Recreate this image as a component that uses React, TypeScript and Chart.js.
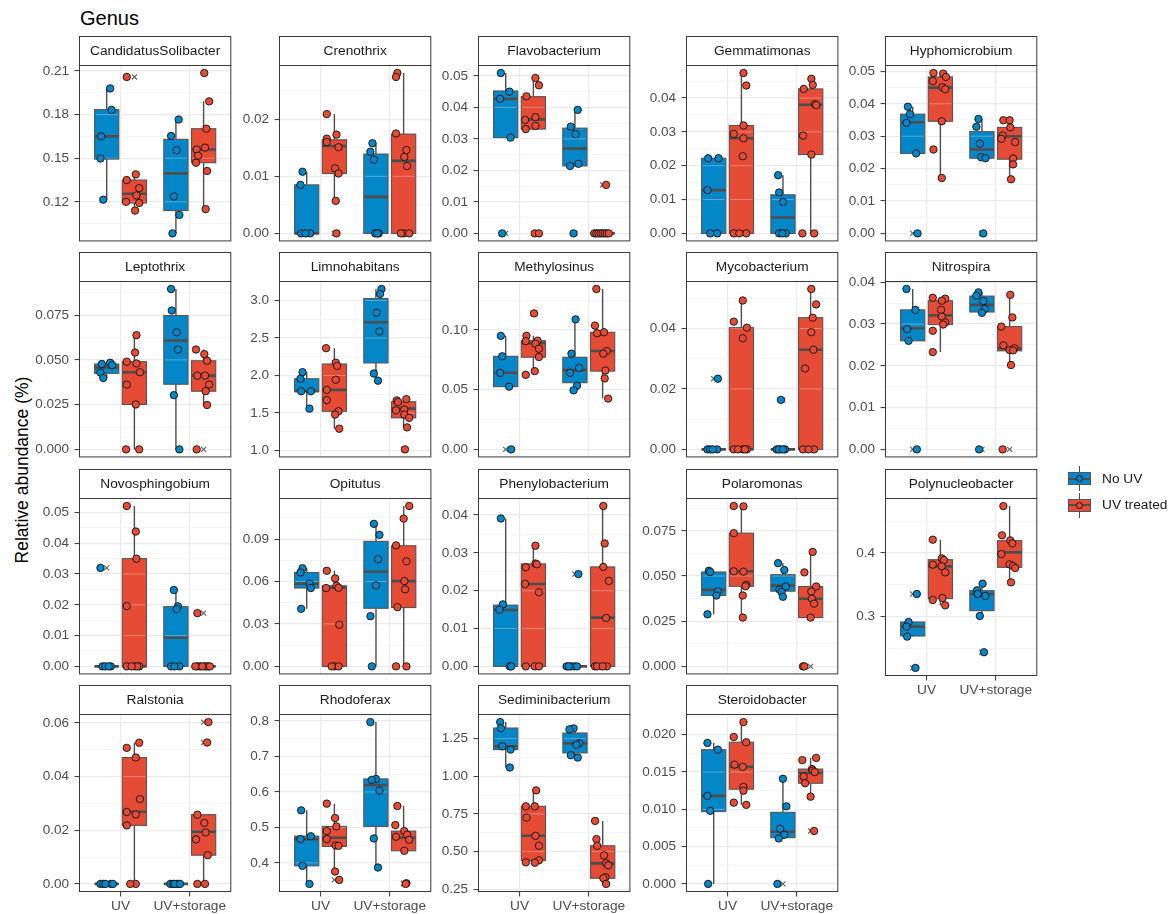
import React, { useEffect, useRef } from "react";
import { Chart, registerables } from "chart.js";

Chart.register(...registerables);

// ---------------------------------------------------------------------------
// Shared categories
// ---------------------------------------------------------------------------
const GROUPS = ["UV", "UV+storage"];
const TREATMENTS = ["No UV", "UV treated"];
const GROUP_POS = [1, 2];
const DODGE = [-0.2, 0.2];
const HALF_BOX = 0.175;

// Box order in every genus: [No UV @UV, UV treated @UV, No UV @UV+storage, UV treated @UV+storage]
// Box stats: [lower whisker, Q1, median, Q3, upper whisker]

// CandidatusSolibacter
const SOLIBACTER_VALUES = [
  [0.198, 0.1832, 0.165, 0.1498, 0.1215],
  [0.2059, 0.1389, 0.135, 0.1294, 0.1244, 0.12, 0.1192, 0.114],
  [0.1766, 0.1653, 0.1555, 0.1237, 0.111, 0.0983],
  [0.2086, 0.1891, 0.1703, 0.1573, 0.156, 0.1517, 0.1469, 0.1412, 0.115],
];
const SOLIBACTER_JITTER = [
  [0.05, 0.07, -0.08, -0.09, -0.05],
  [-0.11, 0.02, -0.11, 0.07, 0.03, -0.12, 0.07, 0.01],
  [0.04, -0.07, 0.01, -0.03, 0.05, -0.05],
  [0.01, 0.08, 0.04, 0.02, -0.1, -0.08, -0.11, 0.05, 0.03],
];
const SOLIBACTER_BOXES = [
  [0.1215, 0.1494, 0.165, 0.1834, 0.198],
  [0.114, 0.1192, 0.1256, 0.135, 0.1389],
  [0.0983, 0.114, 0.1396, 0.163, 0.1766],
  [0.115, 0.1469, 0.156, 0.1703, 0.1891],
];
const SOLIBACTER_TICKS = ["0.12", "0.15", "0.18", "0.21"];

// Crenothrix
const CRENOTHRIX_VALUES = [
  [0.0108, 0.0085, 0, 0, 0],
  [0.0209, 0.0173, 0.0166, 0.016, 0.0151, 0.0114, 0.0105, 0.0057, 0],
  [0.0158, 0.0143, 0.0129, 0, 0, 0],
  [0.0281, 0.0274, 0.0175, 0.0146, 0.0134, 0.0118, 0, 0, 0],
];
const CRENOTHRIX_JITTER = [
  [-0.06, -0.09, -0.08, 0.05, -0.02],
  [-0.11, 0.03, -0.11, -0.11, 0.06, 0.01, 0.06, 0.02, 0.03],
  [-0.05, -0.08, -0.03, -0.01, 0.04, 0.02],
  [-0.09, -0.11, -0.11, 0.04, 0.01, 0.05, 0.0, 0.08, -0.04],
];
const CRENOTHRIX_BOXES = [
  [0, 0, 0, 0.0085, 0.0108],
  [0.0057, 0.0105, 0.0153, 0.0164, 0.0209],
  [0, 0, 0.0064, 0.0139, 0.0158],
  [0, 0, 0.0127, 0.0174, 0.0281],
];
const CRENOTHRIX_TICKS = ["0.00", "0.01", "0.02"];

// Flavobacterium
const FLAVO_VALUES = [
  [0.0509, 0.045, 0.0427, 0.0304, 0],
  [0.0493, 0.047, 0.0435, 0.0369, 0.036, 0.0341, 0.0331, 0, 0],
  [0.0392, 0.0339, 0.0315, 0.0221, 0.0214, 0],
  [0.0154, 0, 0, 0, 0, 0, 0, 0, 0],
];
const FLAVO_JITTER = [
  [-0.07, 0.055, -0.08, 0.07, -0.05],
  [0.03, 0.08, -0.1, 0.03, -0.12, 0.03, -0.11, 0.02, 0.08],
  [0.04, -0.06, 0.01, 0.05, -0.07, -0.02],
  [0.05, -0.12, -0.09, -0.06, -0.03, 0.0, 0.03, 0.06, 0.09],
];
const FLAVO_BOXES = [
  [0.0304, 0.0304, 0.0427, 0.0452, 0.0509],
  [0.0331, 0.0331, 0.0362, 0.0434, 0.0493],
  [0.0214, 0.0214, 0.0269, 0.0334, 0.0392],
  [0, 0, 0, 0, 0],
];
const FLAVO_TICKS = ["0.00", "0.01", "0.02", "0.03", "0.04", "0.05"];

// Gemmatimonas
const GEMMA_VALUES = [
  [0.0222, 0.0222, 0.0128, 0, 0],
  [0.0474, 0.0437, 0.0319, 0.0294, 0.0281, 0.0228, 0, 0, 0],
  [0.0172, 0.0121, 0.0093, 0, 0, 0],
  [0.0457, 0.0439, 0.0427, 0.0382, 0.0379, 0.0289, 0.0233, 0, 0],
];
const GEMMA_JITTER = [
  [-0.08, 0.07, -0.09, -0.05, 0.05],
  [0.03, 0.07, 0.03, -0.11, 0.03, 0.02, -0.11, 0.07, -0.03],
  [-0.07, -0.055, 0.0, -0.055, 0.04, -0.01],
  [0.01, 0.03, -0.1, 0.06, 0.08, -0.11, 0.01, -0.12, 0.05],
];
const GEMMA_BOXES = [
  [0, 0, 0.0128, 0.0222, 0.0222],
  [0, 0, 0.0281, 0.0319, 0.0474],
  [0, 0, 0.0047, 0.0114, 0.0172],
  [0, 0.0233, 0.038, 0.0427, 0.0457],
];
const GEMMA_TICKS = ["0.00", "0.01", "0.02", "0.03", "0.04"];

// Hyphomicrobium
const HYPHO_VALUES = [
  [0.0391, 0.0368, 0.0341, 0.0247, 0],
  [0.0495, 0.0493, 0.0483, 0.047, 0.0451, 0.0445, 0.0346, 0.0259, 0.0171],
  [0.0353, 0.0329, 0.0277, 0.0235, 0.0232, 0],
  [0.0349, 0.0349, 0.0327, 0.0302, 0.0292, 0.0282, 0.0231, 0.0213, 0.0167],
];
const HYPHO_JITTER = [
  [-0.07, -0.04, -0.09, 0.05, 0.07],
  [-0.1, 0.04, 0.08, -0.11, 0.03, 0.07, 0.02, -0.1, 0.02],
  [-0.05, -0.08, -0.03, -0.01, 0.05, 0.02],
  [-0.09, 0.0, 0.01, -0.1, -0.12, 0.08, 0.05, 0.05, 0.02],
];
const HYPHO_BOXES = [
  [0.0247, 0.0247, 0.0343, 0.0368, 0.0391],
  [0.0171, 0.0346, 0.045, 0.0483, 0.0495],
  [0.0232, 0.0232, 0.0259, 0.0314, 0.0353],
  [0.0167, 0.0229, 0.03, 0.0327, 0.0349],
];
const HYPHO_TICKS = ["0.00", "0.01", "0.02", "0.03", "0.04", "0.05"];

// Leptothrix
const LEPTO_VALUES = [
  [0.0484, 0.0477, 0.0471, 0.0429, 0.0399],
  [0.0638, 0.0541, 0.049, 0.048, 0.0431, 0.0362, 0.0251, 0, 0],
  [0.0896, 0.0776, 0.0654, 0.0558, 0.0303, 0],
  [0.0558, 0.0532, 0.0495, 0.0412, 0.0412, 0.0362, 0.0325, 0.0248, 0],
];
const LEPTO_JITTER = [
  [0.05, -0.07, 0.08, -0.09, -0.05],
  [0.03, 0.01, -0.11, 0.03, 0.08, -0.11, 0.02, -0.12, 0.07],
  [-0.07, -0.06, 0.01, 0.03, -0.03, 0.05],
  [-0.11, 0.01, 0.05, -0.09, 0.02, 0.08, 0.03, 0.05, -0.1],
];
const LEPTO_BOXES = [
  [0.0399, 0.0425, 0.0458, 0.0477, 0.0484],
  [0, 0.0251, 0.0431, 0.049, 0.0638],
  [0, 0.0364, 0.0608, 0.0748, 0.0896],
  [0.0248, 0.0325, 0.0412, 0.0495, 0.0558],
];
const LEPTO_TICKS = ["0.000", "0.025", "0.050", "0.075"];

// Limnohabitans
const LIMNO_VALUES = [
  [2.044, 1.956, 1.789, 1.789, 1.557],
  [2.364, 2.171, 2.127, 1.943, 1.807, 1.671, 1.522, 1.478, 1.289],
  [3.154, 3.088, 2.838, 2.588, 2.026, 1.93],
  [1.684, 1.667, 1.645, 1.544, 1.535, 1.478, 1.434, 1.307, 1.013],
];
const LIMNO_JITTER = [
  [-0.06, -0.09, -0.08, 0.06, 0.04],
  [-0.12, 0.02, 0.04, 0.02, -0.11, -0.11, 0.06, 0.01, 0.07],
  [0.08, 0.06, 0.01, 0.05, -0.03, 0.03],
  [0.04, -0.1, -0.08, 0.01, -0.11, 0.01, 0.08, 0.05, 0.02],
];
const LIMNO_BOXES = [
  [1.557, 1.789, 1.789, 1.956, 2.044],
  [1.289, 1.522, 1.807, 2.153, 2.364],
  [1.93, 2.167, 2.711, 3.026, 3.154],
  [1.307, 1.434, 1.557, 1.649, 1.684],
];
const LIMNO_TICKS = ["1.0", "1.5", "2.0", "2.5", "3.0"];

// Methylosinus
const METHYLO_VALUES = [
  [0.095, 0.0779, 0.0641, 0.0525, 0],
  [0.1138, 0.095, 0.0906, 0.091, 0.0884, 0.0842, 0.0773, 0.0655, 0.0624],
  [0.1088, 0.0801, 0.0682, 0.0641, 0.0533, 0.0494],
  [0.1342, 0.1036, 0.098, 0.0972, 0.0823, 0.0801, 0.066, 0.0594, 0.0425],
];
const METHYLO_JITTER = [
  [-0.07, -0.05, -0.08, 0.05, 0.08],
  [0.01, -0.1, -0.11, 0.06, 0.03, 0.08, 0.08, 0.02, -0.11],
  [0.01, -0.05, 0.06, -0.07, 0.03, -0.02],
  [-0.09, -0.11, 0.02, -0.08, 0.06, 0.01, 0.04, 0.03, 0.08],
];
const METHYLO_BOXES = [
  [0.0525, 0.0525, 0.0641, 0.0779, 0.095],
  [0.0624, 0.0771, 0.0889, 0.0909, 0.095],
  [0.0494, 0.0558, 0.0663, 0.0771, 0.1088],
  [0.0425, 0.0655, 0.0823, 0.098, 0.1342],
];
const METHYLO_TICKS = ["0.00", "0.05", "0.10"];

// Mycobacterium
const MYCO_VALUES = [
  [0.0234, 0, 0, 0, 0],
  [0.0493, 0.0423, 0.0403, 0.0368, 0, 0, 0, 0, 0],
  [0.0164, 0, 0, 0, 0, 0],
  [0.0531, 0.048, 0.0436, 0.0388, 0.033, 0.0268, 0, 0, 0],
];
const MYCO_JITTER = [
  [0.06, -0.09, -0.05, 0.05, -0.01],
  [0.02, -0.11, 0.08, 0.02, -0.11, 0.02, 0.08, -0.05, 0.05],
  [-0.03, -0.09, -0.04, 0.03, -0.06, 0.0],
  [0.01, 0.08, 0.03, 0.01, 0.04, -0.08, -0.11, 0.05, -0.03],
];
const MYCO_BOXES = [
  [0, 0, 0, 0, 0],
  [0, 0, 0, 0.0403, 0.0493],
  [0, 0, 0, 0, 0],
  [0, 0, 0.033, 0.0436, 0.0531],
];
const MYCO_TICKS = ["0.00", "0.02", "0.04"];

// Nitrospira
const NITRO_VALUES = [
  [0.0384, 0.0334, 0.0288, 0.026, 0],
  [0.0363, 0.0361, 0.0356, 0.0334, 0.0318, 0.0304, 0.0299, 0.0284, 0.0233],
  [0.0376, 0.0368, 0.0355, 0.0336, 0.0327, 0],
  [0.037, 0.0316, 0.0294, 0.0249, 0.0242, 0.0238, 0.0237, 0.0202, 0],
];
const NITRO_JITTER = [
  [-0.09, 0.04, -0.08, -0.06, 0.06],
  [-0.11, 0.07, 0.02, 0.01, 0.02, 0.07, 0.04, -0.11, -0.11],
  [-0.05, -0.08, 0.02, 0.04, 0.0, -0.04],
  [0.01, 0.04, -0.12, -0.09, 0.07, 0.0, 0.05, 0.02, -0.1],
];
const NITRO_BOXES = [
  [0.026, 0.026, 0.029, 0.0334, 0.0384],
  [0.0233, 0.0299, 0.0321, 0.0356, 0.0363],
  [0.0327, 0.0329, 0.0346, 0.0367, 0.0376],
  [0.0202, 0.0236, 0.0242, 0.0294, 0.037],
];
const NITRO_TICKS = ["0.00", "0.01", "0.02", "0.03", "0.04"];

// Novosphingobium
const NOVO_VALUES = [
  [0.032, 0, 0, 0, 0],
  [0.0521, 0.0438, 0.035, 0.0196, 0, 0, 0, 0, 0],
  [0.0248, 0.0195, 0.0186, 0, 0, 0],
  [0.0173, 0, 0, 0, 0, 0, 0, 0, 0],
];
const NOVO_JITTER = [
  [-0.09, -0.06, 0.06, -0.02, 0.03],
  [-0.11, 0.02, 0.03, -0.11, -0.11, 0.01, 0.07, 0.04, -0.04],
  [-0.03, 0.03, 0.01, -0.07, 0.05, -0.02],
  [-0.09, -0.09, 0.02, 0.07, -0.05, 0.04, -0.02, 0.09, -0.12],
];
const NOVO_BOXES = [
  [0, 0, 0, 0, 0],
  [0, 0, 0, 0.035, 0.0521],
  [0, 0, 0.0093, 0.0194, 0.0248],
  [0, 0, 0, 0, 0],
];
const NOVO_TICKS = ["0.00", "0.01", "0.02", "0.03", "0.04", "0.05"];

// Opitutus
const OPITUTUS_VALUES = [
  [0.0694, 0.0664, 0.0585, 0.0554, 0.0407],
  [0.0676, 0.0622, 0.057, 0.0556, 0.0554, 0.0295, 0, 0, 0],
  [0.1008, 0.093, 0.0758, 0.0573, 0.0355, 0],
  [0.1134, 0.1045, 0.0856, 0.0743, 0.0603, 0.0545, 0.0419, 0, 0],
];
const OPITUTUS_JITTER = [
  [-0.06, -0.09, 0.04, 0.06, -0.08],
  [-0.11, 0.01, 0.03, 0.06, -0.12, 0.07, 0.0, 0.06, -0.04],
  [-0.03, 0.05, 0.03, 0.0, -0.08, -0.06],
  [0.08, 0.0, -0.11, 0.04, 0.01, 0.02, -0.09, -0.11, 0.04],
];
const OPITUTUS_BOXES = [
  [0.0407, 0.0554, 0.0585, 0.0664, 0.0694],
  [0, 0, 0.0556, 0.057, 0.0676],
  [0, 0.0411, 0.0669, 0.0884, 0.1008],
  [0, 0.0416, 0.0603, 0.0853, 0.1134],
];
const OPITUTUS_TICKS = ["0.00", "0.03", "0.06", "0.09"];

// Phenylobacterium
const PHENYLO_VALUES = [
  [0.0391, 0.0164, 0.015, 0, 0],
  [0.0319, 0.0272, 0.027, 0.0262, 0.0218, 0.0196, 0, 0, 0],
  [0.0244, 0, 0, 0, 0, 0],
  [0.0424, 0.0325, 0.0263, 0.0226, 0.0128, 0, 0, 0, 0],
];
const PHENYLO_JITTER = [
  [-0.07, -0.04, -0.09, 0.06, 0.08],
  [0.03, 0.03, 0.05, -0.11, -0.12, 0.08, -0.11, 0.02, 0.08],
  [0.05, -0.12, -0.06, -0.01, 0.03, -0.09],
  [0.01, 0.03, 0.01, 0.09, 0.05, -0.11, -0.08, 0.06, 0.0],
];
const PHENYLO_BOXES = [
  [0, 0, 0.0149, 0.0162, 0.0391],
  [0, 0, 0.0218, 0.0271, 0.0319],
  [0, 0, 0, 0, 0],
  [0, 0, 0.0129, 0.0263, 0.0424],
];
const PHENYLO_TICKS = ["0.00", "0.01", "0.02", "0.03", "0.04"];

// Polaromonas
const POLARO_VALUES = [
  [0.0529, 0.0522, 0.0416, 0.0392, 0.0288],
  [0.0887, 0.0885, 0.0737, 0.0526, 0.0524, 0.0451, 0.0443, 0.0392, 0.027],
  [0.0571, 0.0533, 0.0442, 0.0425, 0.0412, 0.0385],
  [0.0633, 0.052, 0.0442, 0.0414, 0.0374, 0.0347, 0.027, 0, 0],
];
const POLARO_JITTER = [
  [-0.07, -0.05, 0.06, 0.04, -0.09],
  [-0.11, 0.03, -0.11, -0.11, 0.03, 0.07, 0.06, 0.02, 0.02],
  [-0.07, 0.02, 0.04, -0.05, -0.02, 0.0],
  [0.03, -0.09, 0.08, 0.01, 0.02, 0.05, 0.0, -0.11, -0.09],
];
const POLARO_BOXES = [
  [0.0288, 0.0392, 0.0423, 0.0522, 0.0529],
  [0.027, 0.0443, 0.0526, 0.0737, 0.0887],
  [0.0385, 0.0416, 0.0447, 0.0507, 0.0571],
  [0.027, 0.027, 0.0374, 0.0442, 0.0633],
];
const POLARO_TICKS = ["0.000", "0.025", "0.050", "0.075"];

// Polynucleobacter
const POLYNUC_VALUES = [
  [0.3356, 0.2916, 0.2843, 0.2686, 0.2194],
  [0.421, 0.3916, 0.389, 0.3817, 0.3791, 0.3696, 0.3293, 0.3262, 0.3178],
  [0.3518, 0.3414, 0.3356, 0.3325, 0.301, 0.244],
  [0.4738, 0.4278, 0.4199, 0.4152, 0.3984, 0.3822, 0.3796, 0.3764, 0.3539],
];
const POLYNUC_JITTER = [
  [0.06, -0.06, -0.09, -0.08, 0.04],
  [-0.11, 0.02, 0.05, -0.11, 0.02, 0.07, 0.03, -0.11, 0.07],
  [0.01, -0.07, -0.06, 0.05, -0.03, 0.03],
  [-0.09, -0.11, 0.01, 0.04, -0.12, 0.0, 0.05, 0.08, 0.02],
];
const POLYNUC_BOXES = [
  [0.2686, 0.2696, 0.2843, 0.2916, 0.2916],
  [0.3178, 0.3283, 0.379, 0.3895, 0.421],
  [0.301, 0.3094, 0.3356, 0.3408, 0.3518],
  [0.3539, 0.3775, 0.401, 0.4194, 0.4738],
];
const POLYNUC_TICKS = ["0.3", "0.4"];

// Ralstonia
const RALSTONIA_VALUES = [
  [0, 0, 0, 0, 0],
  [0.0526, 0.0507, 0.0471, 0.0316, 0.0268, 0.0259, 0.0218, 0, 0],
  [0, 0, 0, 0, 0, 0],
  [0.0603, 0.0527, 0.0258, 0.0227, 0.0192, 0.0166, 0.0107, 0, 0],
];
const RALSTONIA_JITTER = [
  [-0.09, -0.05, 0.06, 0.09, -0.02],
  [0.07, -0.11, 0.02, 0.08, -0.11, 0.02, -0.11, 0.02, -0.06],
  [-0.08, -0.04, 0.01, 0.04, -0.02, 0.06],
  [0.07, 0.05, -0.09, 0.01, 0.03, -0.11, 0.06, -0.09, 0.02],
];
const RALSTONIA_BOXES = [
  [0, 0, 0, 0, 0],
  [0, 0.0218, 0.0269, 0.0471, 0.0526],
  [0, 0, 0, 0, 0],
  [0, 0.0107, 0.0195, 0.0258, 0.0258],
];
const RALSTONIA_TICKS = ["0.00", "0.02", "0.04", "0.06"];

// Rhodoferax
const RHODO_VALUES = [
  [0.548, 0.475, 0.467, 0.3915, 0.3406],
  [0.567, 0.5264, 0.5028, 0.4896, 0.467, 0.449, 0.448, 0.3755, 0.3519],
  [0.797, 0.6367, 0.6339, 0.6037, 0.4688, 0.3868],
  [0.5603, 0.5066, 0.4896, 0.4792, 0.4736, 0.4651, 0.434, 0.3425, 0.3406],
];
const RHODO_JITTER = [
  [-0.08, 0.06, -0.09, -0.06, 0.04],
  [-0.11, 0.01, 0.03, -0.11, -0.11, 0.02, 0.06, 0.01, 0.07],
  [-0.08, 0.0, -0.06, 0.05, -0.03, 0.03],
  [-0.09, -0.12, 0.01, 0.05, -0.11, 0.08, 0.01, 0.04, 0.03],
];
const RHODO_BOXES = [
  [0.3406, 0.3915, 0.467, 0.4754, 0.548],
  [0.3755, 0.4462, 0.4707, 0.5028, 0.567],
  [0.3868, 0.5028, 0.6197, 0.6367, 0.797],
  [0.434, 0.434, 0.4707, 0.4896, 0.5603],
];
const RHODO_TICKS = ["0.4", "0.5", "0.6", "0.7", "0.8"];

// Sediminibacterium
const SEDIMINI_VALUES = [
  [1.36, 1.3205, 1.1993, 1.1773, 1.0583],
  [0.9064, 0.8007, 0.8007, 0.7258, 0.6046, 0.5385, 0.4416, 0.4284, 0.4262],
  [1.3183, 1.3117, 1.219, 1.2103, 1.1399, 1.1244],
  [0.7037, 0.5826, 0.5385, 0.4747, 0.4218, 0.4086, 0.33, 0.3227, 0.2852],
];
const SEDIMINI_JITTER = [
  [-0.08, -0.07, -0.05, 0.07, 0.06],
  [0.04, -0.11, 0.02, -0.1, 0.03, 0.08, 0.08, -0.11, 0.02],
  [-0.02, -0.08, 0.06, 0.02, -0.06, 0.04],
  [-0.11, -0.09, -0.08, 0.02, 0.05, 0.08, 0.04, 0.01, 0.05],
];
const SEDIMINI_BOXES = [
  [1.0583, 1.1773, 1.1993, 1.3205, 1.36],
  [0.4262, 0.4416, 0.6046, 0.8007, 0.9064],
  [1.1244, 1.1553, 1.219, 1.2874, 1.3183],
  [0.2852, 0.3227, 0.4218, 0.5385, 0.7037],
];
const SEDIMINI_TICKS = ["0.25", "0.50", "0.75", "1.00", "1.25"];

// Steroidobacter
const STEROID_VALUES = [
  [0.0189, 0.018, 0.0118, 0.0098, 0],
  [0.0217, 0.0197, 0.019, 0.016, 0.0157, 0.013, 0.0125, 0.0109, 0.0106],
  [0.0141, 0.0104, 0.0074, 0.0066, 0.0061, 0],
  [0.0169, 0.0166, 0.0154, 0.0152, 0.015, 0.0144, 0.0135, 0.0117, 0.0071],
];
const STEROID_JITTER = [
  [-0.09, 0.06, -0.09, -0.05, -0.08],
  [0.03, -0.11, 0.07, -0.1, 0.02, 0.03, 0.03, -0.11, 0.07],
  [0.0, 0.05, -0.04, 0.02, -0.06, -0.08],
  [0.08, -0.12, 0.02, 0.03, 0.06, -0.1, -0.08, 0.0, 0.05],
];
const STEROID_BOXES = [
  [0, 0.0097, 0.0118, 0.018, 0.0189],
  [0.0106, 0.0127, 0.0157, 0.019, 0.0217],
  [0.0061, 0.0062, 0.007, 0.0096, 0.0141],
  [0.0117, 0.0135, 0.0149, 0.0154, 0.0169],
];
const STEROID_TICKS = ["0.000", "0.005", "0.010", "0.015", "0.020"];

type PanelSpec = {
  genus: string;
  values: number[][];
  jitter: number[][];
  boxes: number[][];
  ticks: string[];
};

const PANELS: PanelSpec[] = [
  { genus: "CandidatusSolibacter", values: SOLIBACTER_VALUES, jitter: SOLIBACTER_JITTER, boxes: SOLIBACTER_BOXES, ticks: SOLIBACTER_TICKS },
  { genus: "Crenothrix", values: CRENOTHRIX_VALUES, jitter: CRENOTHRIX_JITTER, boxes: CRENOTHRIX_BOXES, ticks: CRENOTHRIX_TICKS },
  { genus: "Flavobacterium", values: FLAVO_VALUES, jitter: FLAVO_JITTER, boxes: FLAVO_BOXES, ticks: FLAVO_TICKS },
  { genus: "Gemmatimonas", values: GEMMA_VALUES, jitter: GEMMA_JITTER, boxes: GEMMA_BOXES, ticks: GEMMA_TICKS },
  { genus: "Hyphomicrobium", values: HYPHO_VALUES, jitter: HYPHO_JITTER, boxes: HYPHO_BOXES, ticks: HYPHO_TICKS },
  { genus: "Leptothrix", values: LEPTO_VALUES, jitter: LEPTO_JITTER, boxes: LEPTO_BOXES, ticks: LEPTO_TICKS },
  { genus: "Limnohabitans", values: LIMNO_VALUES, jitter: LIMNO_JITTER, boxes: LIMNO_BOXES, ticks: LIMNO_TICKS },
  { genus: "Methylosinus", values: METHYLO_VALUES, jitter: METHYLO_JITTER, boxes: METHYLO_BOXES, ticks: METHYLO_TICKS },
  { genus: "Mycobacterium", values: MYCO_VALUES, jitter: MYCO_JITTER, boxes: MYCO_BOXES, ticks: MYCO_TICKS },
  { genus: "Nitrospira", values: NITRO_VALUES, jitter: NITRO_JITTER, boxes: NITRO_BOXES, ticks: NITRO_TICKS },
  { genus: "Novosphingobium", values: NOVO_VALUES, jitter: NOVO_JITTER, boxes: NOVO_BOXES, ticks: NOVO_TICKS },
  { genus: "Opitutus", values: OPITUTUS_VALUES, jitter: OPITUTUS_JITTER, boxes: OPITUTUS_BOXES, ticks: OPITUTUS_TICKS },
  { genus: "Phenylobacterium", values: PHENYLO_VALUES, jitter: PHENYLO_JITTER, boxes: PHENYLO_BOXES, ticks: PHENYLO_TICKS },
  { genus: "Polaromonas", values: POLARO_VALUES, jitter: POLARO_JITTER, boxes: POLARO_BOXES, ticks: POLARO_TICKS },
  { genus: "Polynucleobacter", values: POLYNUC_VALUES, jitter: POLYNUC_JITTER, boxes: POLYNUC_BOXES, ticks: POLYNUC_TICKS },
  { genus: "Ralstonia", values: RALSTONIA_VALUES, jitter: RALSTONIA_JITTER, boxes: RALSTONIA_BOXES, ticks: RALSTONIA_TICKS },
  { genus: "Rhodoferax", values: RHODO_VALUES, jitter: RHODO_JITTER, boxes: RHODO_BOXES, ticks: RHODO_TICKS },
  { genus: "Sediminibacterium", values: SEDIMINI_VALUES, jitter: SEDIMINI_JITTER, boxes: SEDIMINI_BOXES, ticks: SEDIMINI_TICKS },
  { genus: "Steroidobacter", values: STEROID_VALUES, jitter: STEROID_JITTER, boxes: STEROID_BOXES, ticks: STEROID_TICKS },
];

// ---------------------------------------------------------------------------
// Look & layout
// ---------------------------------------------------------------------------
const FONT = "'Liberation Sans', Arial, Helvetica, sans-serif";
const FILLS = ["#0387C8", "#E64B35"];
const LINE = "#4D4D4D";
const FRAME = "#3A3A3A";
const GRID_MAJOR = "#EBEBEB";
const GRID_MINOR = "#F4F4F4";
const TICK_TEXT = "#4D4D4D";

const COL_LEFT = [79, 279, 478, 686, 885];
const ROW_TOP = [36, 252, 469, 685];
const PANEL_W = 155;
const STRIP_H = 29;
const PLOT_H = 178;
const AXIS_W = 60;
const RIGHT_PAD = 2;
const BOTTOM_PAD = 12;
const XAXIS_H = 24;
const NCOL = 5;

function hasAxisBelow(i: number) {
  return i + NCOL >= PANELS.length;
}

type TickItem = { value: number; txt: string; major: boolean };

function buildYTicks(labels: string[], min: number, max: number): TickItem[] {
  const majors = labels.map(Number);
  const step = majors[1] - majors[0];
  const out: TickItem[] = majors.map((v, i) => ({ value: v, txt: labels[i], major: true }));
  for (let k = -1; k < majors.length; k++) {
    const v = Math.round((majors[0] + (k + 0.5) * step) * 1e6) / 1e6;
    if (v >= min && v <= max) out.push({ value: v, txt: "", major: false });
  }
  return out.sort((a, b) => a.value - b.value);
}

function boxCenter(i: number) {
  return GROUP_POS[i >> 1] + DODGE[i % 2];
}

function makeBoxPlugin(spec: PanelSpec, yTicks: TickItem[]) {
  return {
    id: "boxes",
    beforeDatasetsDraw(chart: any) {
      const { ctx, chartArea: a } = chart;
      const xs = chart.scales.x;
      const ys = chart.scales.y;
      ctx.save();
      ctx.beginPath();
      ctx.rect(a.left, a.top, a.right - a.left, a.bottom - a.top);
      ctx.clip();
      spec.boxes.forEach((b, i) => {
        const [lo, q1, med, q3, hi] = b;
        const c = boxCenter(i);
        const xc = xs.getPixelForValue(c);
        const xl = xs.getPixelForValue(c - HALF_BOX);
        const xr = xs.getPixelForValue(c + HALF_BOX);
        const pLo = ys.getPixelForValue(lo);
        const pQ1 = ys.getPixelForValue(q1);
        const pMed = ys.getPixelForValue(med);
        const pQ3 = ys.getPixelForValue(q3);
        const pHi = ys.getPixelForValue(hi);
        // whiskers
        ctx.strokeStyle = LINE;
        ctx.lineWidth = 1.4;
        ctx.beginPath();
        ctx.moveTo(xc, pHi);
        ctx.lineTo(xc, pQ3);
        ctx.moveTo(xc, pQ1);
        ctx.lineTo(xc, pLo);
        ctx.stroke();
        // box body
        ctx.fillStyle = FILLS[i % 2];
        ctx.fillRect(xl, pQ3, xr - xl, pQ1 - pQ3);
        // faint sheen of the major grid through the box
        ctx.strokeStyle = "rgba(255,255,255,0.32)";
        ctx.lineWidth = 1;
        yTicks.forEach((t) => {
          if (t.major && t.value > q1 && t.value < q3) {
            const py = ys.getPixelForValue(t.value);
            ctx.beginPath();
            ctx.moveTo(xl + 1, py);
            ctx.lineTo(xr - 1, py);
            ctx.stroke();
          }
        });
        // outline + median
        ctx.strokeStyle = "#555555";
        ctx.lineWidth = 1.1;
        ctx.strokeRect(xl, pQ3, xr - xl, pQ1 - pQ3);
        ctx.strokeStyle = LINE;
        ctx.lineWidth = 2.6;
        ctx.beginPath();
        ctx.moveTo(xl, pMed);
        ctx.lineTo(xr, pMed);
        ctx.stroke();
      });
      ctx.restore();
    },
  };
}

function makeFramePlugin(spec: PanelSpec) {
  return {
    id: "frame",
    afterDraw(chart: any) {
      const { ctx, chartArea: a } = chart;
      const w = a.right - a.left;
      ctx.save();
      ctx.fillStyle = "#FFFFFF";
      ctx.fillRect(a.left, a.top - STRIP_H, w, STRIP_H);
      ctx.strokeStyle = FRAME;
      ctx.lineWidth = 1;
      ctx.strokeRect(a.left + 0.5, a.top - STRIP_H + 0.5, w - 1, STRIP_H);
      ctx.strokeRect(a.left + 0.5, a.top + 0.5, w - 1, a.bottom - a.top - 1);
      ctx.fillStyle = "#1A1A1A";
      ctx.font = `13.7px ${FONT}`;
      ctx.textAlign = "center";
      ctx.textBaseline = "middle";
      ctx.fillText(spec.genus, a.left + w / 2, a.top - STRIP_H / 2 + 1);
      ctx.restore();
    },
  };
}

function Panel({ spec, index }: { spec: PanelSpec; index: number }) {
  const ref = useRef<HTMLCanvasElement | null>(null);
  const row = Math.floor(index / NCOL);
  const col = index % NCOL;
  const bottom = hasAxisBelow(index);
  const xH = bottom ? XAXIS_H : 0;
  const width = AXIS_W + PANEL_W + RIGHT_PAD;
  const height = STRIP_H + PLOT_H + xH + BOTTOM_PAD;
  const left = COL_LEFT[col] - AXIS_W;
  const top = ROW_TOP[row] - STRIP_H * 0 ;

  useEffect(() => {
    const canvas = ref.current;
    if (!canvas) return;
    const all = spec.values.flat();
    const lo = Math.min(...all);
    const hi = Math.max(...all);
    const pad = (hi - lo) * 0.05;
    const yMin = lo - pad;
    const yMax = hi + pad;
    const yTicks = buildYTicks(spec.ticks, yMin, yMax);

    const pointsFor = (t: number) =>
      [0, 1].flatMap((g) => {
        const i = g * 2 + t;
        return spec.values[i].map((v, k) => ({ x: boxCenter(i) + spec.jitter[i][k], y: v }));
      });

    const outliers: { x: number; y: number }[] = [];
    spec.boxes.forEach((b, i) => {
      const seen = new Set<number>();
      spec.values[i].forEach((v) => {
        if ((v < b[0] - 1e-9 || v > b[4] + 1e-9) && !seen.has(v)) {
          seen.add(v);
          outliers.push({ x: boxCenter(i), y: v });
        }
      });
    });

    const chart = new Chart(canvas, {
      type: "scatter",
      data: {
        datasets: [
          {
            label: TREATMENTS[0],
            data: pointsFor(0),
            order: 1,
            pointRadius: 3.7,
            pointHoverRadius: 3.7,
            pointBackgroundColor: FILLS[0],
            pointBorderColor: "#111111",
            pointBorderWidth: 0.9,
          },
          {
            label: TREATMENTS[1],
            data: pointsFor(1),
            order: 0,
            pointRadius: 3.7,
            pointHoverRadius: 3.7,
            pointBackgroundColor: FILLS[1],
            pointBorderColor: "#111111",
            pointBorderWidth: 0.9,
          },
          {
            label: "outliers",
            data: outliers,
            order: 2,
            pointStyle: "crossRot",
            pointRadius: 3.6,
            pointHoverRadius: 3.6,
            pointBorderColor: "#606060",
            pointBackgroundColor: "rgba(0,0,0,0)",
            pointBorderWidth: 1.1,
          },
        ],
      },
      options: {
        responsive: false,
        animation: false,
        devicePixelRatio: 1,
        events: [],
        layout: { padding: { top: STRIP_H, right: RIGHT_PAD, bottom: BOTTOM_PAD, left: 0 } },
        plugins: { legend: { display: false }, tooltip: { enabled: false }, title: { display: false } },
        scales: {
          x: {
            type: "linear",
            min: 0.4,
            max: 2.6,
            bounds: "data",
            afterBuildTicks: (s: any) => {
              s.ticks = GROUP_POS.map((v) => ({ value: v }));
            },
            afterFit: (s: any) => {
              s.height = xH;
            },
            border: { display: false },
            grid: {
              color: GRID_MAJOR,
              lineWidth: 1.2,
              drawTicks: bottom,
              tickLength: 4.5,
              tickColor: "#333333",
              tickWidth: 1,
            },
            ticks: {
              display: bottom,
              autoSkip: false,
              maxRotation: 0,
              padding: 2,
              color: TICK_TEXT,
              font: { size: 13.7, family: FONT },
              callback: (_v: any, i: number) => GROUPS[i],
            },
          },
          y: {
            type: "linear",
            min: yMin,
            max: yMax,
            bounds: "data",
            afterBuildTicks: (s: any) => {
              s.ticks = yTicks.map((t) => ({ value: t.value }));
            },
            afterFit: (s: any) => {
              s.width = AXIS_W;
            },
            border: { display: false },
            grid: {
              color: (c: any) => (yTicks[c.index] && yTicks[c.index].major ? GRID_MAJOR : GRID_MINOR),
              lineWidth: (c: any) => (yTicks[c.index] && yTicks[c.index].major ? 1.2 : 0.8),
              tickColor: (c: any) => (yTicks[c.index] && yTicks[c.index].major ? "#333333" : "rgba(0,0,0,0)"),
              tickLength: 4.5,
              tickWidth: 1,
              drawTicks: true,
            },
            ticks: {
              autoSkip: false,
              padding: 5.5,
              color: TICK_TEXT,
              font: { size: 13.5, family: FONT },
              callback: (_v: any, i: number) => (yTicks[i] ? yTicks[i].txt : ""),
            },
          },
        },
      },
      plugins: [makeBoxPlugin(spec, yTicks), makeFramePlugin(spec)],
    } as any);
    return () => chart.destroy();
  }, [spec]);

  return (
    <canvas
      ref={ref}
      width={width}
      height={height}
      style={{ position: "absolute", left, top, width, height }}
    />
  );
}

function LegendKey({ color, cy }: { color: string; cy: number }) {
  const cx = 1079.5;
  return (
    <>
      <div style={{ position: "absolute", left: cx - 0.7, top: cy - 12.5, width: 1.4, height: 25, background: LINE }} />
      <div
        style={{
          position: "absolute",
          left: cx - 11.2,
          top: cy - 6.7,
          width: 22.4,
          height: 13.4,
          background: color,
          border: "1px solid #555555",
          boxSizing: "border-box",
        }}
      />
      <div style={{ position: "absolute", left: cx - 11.2, top: cy - 1.2, width: 22.4, height: 2.4, background: LINE }} />
      <div
        style={{
          position: "absolute",
          left: cx - 3.8,
          top: cy - 3.8,
          width: 7.6,
          height: 7.6,
          borderRadius: "50%",
          background: color,
          border: "0.9px solid #111111",
          boxSizing: "border-box",
        }}
      />
    </>
  );
}

export default function App() {
  const legendY = [478.7, 505.3];
  return (
    <div
      style={{
        position: "absolute",
        left: 0,
        top: 0,
        width: 1169,
        height: 914,
        background: "#FFFFFF",
        fontFamily: FONT,
        overflow: "hidden",
      }}
    >
      <div style={{ position: "absolute", left: 80, top: 6, fontSize: 20, lineHeight: "24px", color: "#000000" }}>
        Genus
      </div>
      <div
        style={{
          position: "absolute",
          left: 21.5,
          top: 470,
          transform: "translate(-50%, -50%) rotate(-90deg)",
          whiteSpace: "nowrap",
          fontSize: 17.5,
          lineHeight: "20px",
          color: "#000000",
        }}
      >
        Relative abundance (%)
      </div>
      {PANELS.map((p, i) => (
        <Panel key={p.genus} spec={p} index={i} />
      ))}
      {TREATMENTS.map((t, i) => (
        <React.Fragment key={t}>
          <LegendKey color={FILLS[i]} cy={legendY[i]} />
          <div
            style={{
              position: "absolute",
              left: 1102,
              top: legendY[i] - 9,
              fontSize: 13.7,
              lineHeight: "18px",
              color: "#1A1A1A",
              whiteSpace: "nowrap",
            }}
          >
            {t}
          </div>
        </React.Fragment>
      ))}
    </div>
  );
}
